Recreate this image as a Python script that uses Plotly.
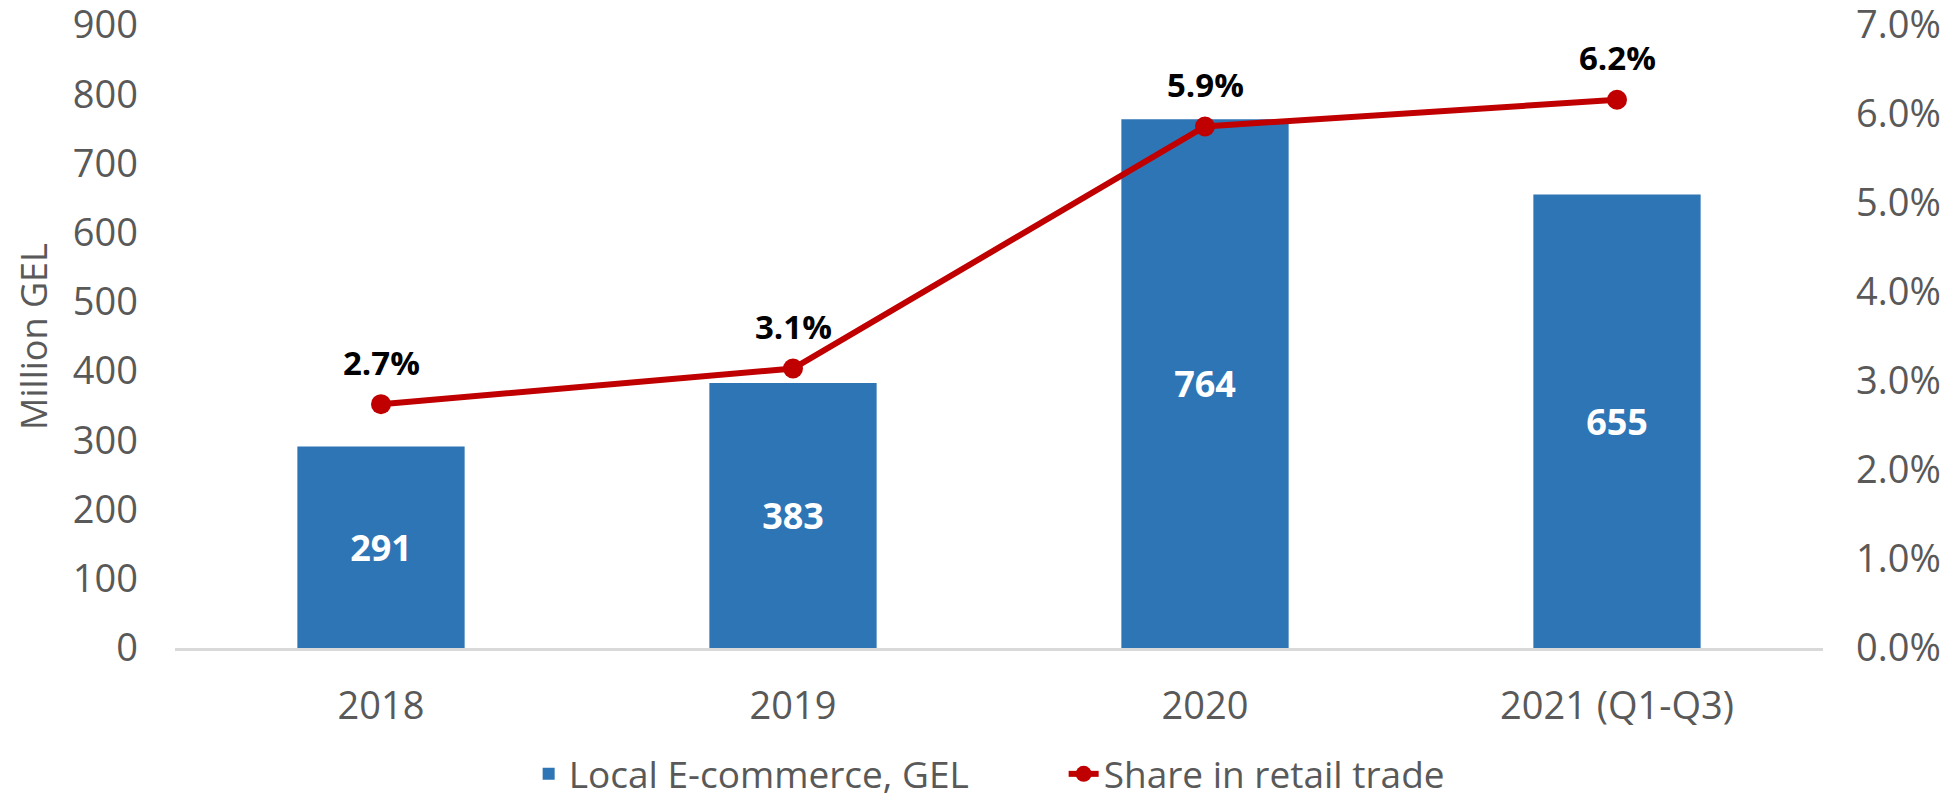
import plotly.graph_objects as go

categories = ["2018", "2019", "2020", "2021 (Q1-Q3)"]
ecommerce_gel = [291, 383, 764, 655]
share_retail_pct = [2.74, 3.14, 5.86, 6.16]
left_ticks = [0, 100, 200, 300, 400, 500, 600, 700, 800, 900]
right_ticks = [0, 1, 2, 3, 4, 5, 6, 7]

FONT = "Open Sans"
GRAY = "#595959"

fig = go.Figure()
fig.add_trace(go.Bar(
    x=categories, y=ecommerce_gel, name="Local E-commerce, GEL",
    marker=dict(color="#2E75B6", line=dict(width=0)),
    text=ecommerce_gel, textposition="inside", insidetextanchor="middle",
    textfont=dict(family=FONT, size=36, color="white", weight="bold"),
    cliponaxis=False,
))
fig.add_trace(go.Scatter(
    x=categories, y=share_retail_pct, name="Share in retail trade",
    yaxis="y2", mode="lines+markers",
    line=dict(color="#C00000", width=6),
    marker=dict(color="#C00000", size=20),
    cliponaxis=False,
))

for i, val in enumerate(share_retail_pct):
    fig.add_annotation(
        x=i, y=val, xref="x", yref="y2", text=f"{val:.1f}%",
        showarrow=False, yanchor="middle", yshift=42,
        font=dict(family=FONT, size=33, color="black", weight="bold"),
    )

fig.update_layout(
    width=1950, height=790,
    margin=dict(l=167, r=135, t=17, b=150, autoexpand=False),
    paper_bgcolor="white", plot_bgcolor="white",
    font=dict(family=FONT, size=38, color=GRAY),
    bargap=0.594,
    showlegend=True,
    legend=dict(orientation="h", x=0.267, xanchor="left", xref="container",
                y=0.03, yanchor="middle", yref="container",
                entrywidth=490,
                font=dict(family=FONT, size=37, color=GRAY),
                traceorder="normal"),
    xaxis=dict(type="category", range=[-0.5, 3.5],
               showgrid=False, showline=True, linecolor="#D9D9D9", linewidth=3,
               ticks="", tickfont=dict(size=38, color=GRAY), ticklabelstandoff=22,
               automargin=False),
    yaxis=dict(range=[0, 900], tickvals=left_ticks, showgrid=False, zeroline=False,
               showline=False, ticks="", tickfont=dict(size=38, color=GRAY),
               ticklabeloverflow="allow", automargin=False, ticklabelstandoff=36,
               title=dict(text="Million GEL", font=dict(size=36, color=GRAY), standoff=14)),
    yaxis2=dict(range=[0, 7], tickvals=right_ticks,
                ticktext=[f"{v:.1f}%" for v in right_ticks],
                overlaying="y", side="right", showgrid=False, zeroline=False,
                showline=False, ticks="", tickfont=dict(size=38, color=GRAY),
                ticklabeloverflow="allow", automargin=False, ticklabelstandoff=32),
)

fig.write_html("out.html")
